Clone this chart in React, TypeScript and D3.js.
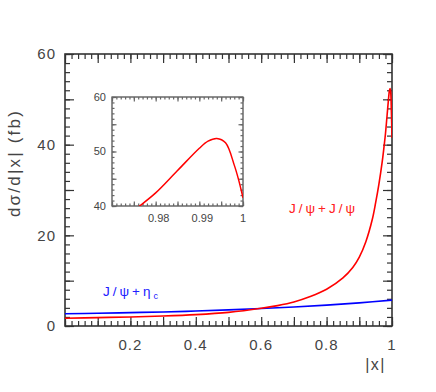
import * as d3 from "d3";
import { useEffect, useRef } from "react";

// |x| grid and cross sections (fb)
const redX = [0, 0.1, 0.2, 0.3, 0.4, 0.5, 0.6, 0.65, 0.7, 0.75, 0.8, 0.85, 0.88, 0.9, 0.92, 0.94, 0.95, 0.96, 0.97, 0.976, 0.98, 0.985, 0.99, 0.992, 0.994, 0.996, 0.998, 0.999, 1.0];
const redY = [1.7, 1.85, 2.0, 2.2, 2.5, 3.0, 3.9, 4.5, 5.3, 6.5, 8.1, 10.6, 12.9, 15.2, 18.6, 23.6, 27.2, 31.3, 36.2, 39.8, 42.4, 46.5, 50.6, 51.9, 52.4, 51.6, 47.5, 44.8, 41.5];

const blueX = [0, 0.1, 0.2, 0.3, 0.4, 0.5, 0.6, 0.7, 0.8, 0.9, 1.0];
const blueY = [2.7, 2.8, 2.95, 3.1, 3.3, 3.55, 3.85, 4.2, 4.6, 5.1, 5.7];

const mainXLabels = [0.2, 0.4, 0.6, 0.8, 1];
const mainYLabels = [0, 20, 40, 60];
const insetXLabels = [0.98, 0.99, 1];
const insetYLabels = [40, 50, 60];

const font = "'Liberation Sans', Arial, sans-serif";
const textColor = "#444";

const W = 436;
const H = 392;

const x = d3.scaleLinear().domain([0, 1]).range([65, 392]);
const y = d3.scaleLinear().domain([0, 60]).range([326, 54]);
const ix = d3.scaleLinear().domain([0.97, 1]).range([112, 243]);
const iy = d3.scaleLinear().domain([40, 60]).range([206, 97]);

type Pt = [number, number];
const zip = (xs: number[], ys: number[]): Pt[] => xs.map((v, i) => [v, ys[i]]);

const steps = (sc: d3.ScaleLinear<number, number>, step: number) => {
  const [a, b] = sc.domain();
  return d3.range(Math.round(a / step), Math.round(b / step) + 1).map((k) => k * step);
};

// inward tick marks on all four sides of a frame, drawn with d3 axes
function drawFrameTicks(
  g: d3.Selection<SVGGElement, unknown, null, undefined>,
  sx: d3.ScaleLinear<number, number>,
  sy: d3.ScaleLinear<number, number>,
  xs: [number, number],
  ys: [number, number],
  len: [number, number],
  color: string
) {
  const [left, right] = sx.range();
  const [bot, top] = sy.range();
  const sets: [number, number][] = [
    [xs[0], len[0]],
    [xs[1], len[1]],
  ];
  sets.forEach(([step, l]) => {
    const tv = steps(sx, step);
    g.append("g").attr("transform", `translate(0,${bot})`).call(d3.axisTop(sx).tickValues(tv).tickSize(l).tickFormat(() => ""));
    g.append("g").attr("transform", `translate(0,${top})`).call(d3.axisBottom(sx).tickValues(tv).tickSize(l).tickFormat(() => ""));
  });
  const ysets: [number, number][] = [
    [ys[0], len[0]],
    [ys[1], len[1]],
  ];
  ysets.forEach(([step, l]) => {
    const tv = steps(sy, step);
    g.append("g").attr("transform", `translate(${left},0)`).call(d3.axisRight(sy).tickValues(tv).tickSize(l).tickFormat(() => ""));
    g.append("g").attr("transform", `translate(${right},0)`).call(d3.axisLeft(sy).tickValues(tv).tickSize(l).tickFormat(() => ""));
  });
  g.selectAll(".domain").remove();
  g.selectAll("line").attr("stroke", color).attr("stroke-width", 1.2);
}

export default function App() {
  const mainRef = useRef<SVGGElement>(null);
  const insetRef = useRef<SVGGElement>(null);

  useEffect(() => {
    const gm = d3.select(mainRef.current as SVGGElement);
    gm.selectAll("*").remove();
    drawFrameTicks(gm, x, y, [0.02, 0.1], [2, 10], [5, 9], "#333");
    const gi = d3.select(insetRef.current as SVGGElement);
    gi.selectAll("*").remove();
    drawFrameTicks(gi, ix, iy, [0.001, 0.005], [1, 5], [2.5, 4.5], "#666");
  }, []);

  const mainLine = d3
    .line<Pt>()
    .x((d) => x(d[0]))
    .y((d) => y(d[1]))
    .curve(d3.curveCatmullRom.alpha(0.5));
  const insetLine = d3
    .line<Pt>()
    .x((d) => ix(d[0]))
    .y((d) => iy(d[1]))
    .curve(d3.curveCatmullRom.alpha(0.5));

  const red = zip(redX, redY);
  const blue = zip(blueX, blueY);

  return (
    <svg width={W} height={H} style={{ position: "absolute", left: 0, top: 0 }} fontFamily={font}>
      <defs>
        <clipPath id="mainClip">
          <rect x={65} y={54} width={327} height={272} />
        </clipPath>
        <clipPath id="insetClip">
          <rect x={112} y={97} width={131} height={109} />
        </clipPath>
      </defs>

      <g ref={mainRef} />
      <rect x={65} y={54} width={327} height={272} fill="none" stroke="#333" strokeWidth={1.6} />

      <g clipPath="url(#mainClip)" fill="none" strokeWidth={1.6}>
        <path d={mainLine(blue) ?? ""} stroke="#0000ff" />
        <path d={mainLine(red) ?? ""} stroke="#ff0000" />
      </g>

      {mainXLabels.map((v) => (
        <text key={v} x={x(v)} y={350} textAnchor="middle" fontSize={15} fill={textColor} letterSpacing={1}>
          {v}
        </text>
      ))}
      {mainYLabels.map((v) => (
        <text key={v} x={56} y={y(v)} dy="0.36em" textAnchor="end" fontSize={15} fill={textColor} letterSpacing={1}>
          {v}
        </text>
      ))}
      <text x={386} y={370} textAnchor="end" fontSize={16} fill={textColor} letterSpacing={1.5}>
        |x|
      </text>
      <text
        transform="translate(20,163) rotate(-90)"
        textAnchor="middle"
        fontSize={17}
        fill={textColor}
        letterSpacing={2.2}
      >
        dσ/d|x| (fb)
      </text>

      {/* curve labels */}
      <text x={289} y={213} fontSize={13.5} fill="#ff2020" letterSpacing={3}>
        J/ψ+J/ψ
      </text>
      <text x={103} y={296} fontSize={13.5} fill="#2020ff" letterSpacing={3}>
        J/ψ+η<tspan fontSize={9} dy={3}>c</tspan>
      </text>

      {/* inset */}
      <rect x={112} y={97} width={131} height={109} fill="#fff" stroke="#444" strokeWidth={1.2} />
      <g ref={insetRef} />
      <g clipPath="url(#insetClip)" fill="none" strokeWidth={1.5}>
        <path d={insetLine(red) ?? ""} stroke="#ff0000" />
      </g>
      {insetXLabels.map((v) => (
        <text key={v} x={ix(v) + (v === 1 ? 0 : 3)} y={222} textAnchor="middle" fontSize={11} fill={textColor}>
          {v}
        </text>
      ))}
      {insetYLabels.map((v) => (
        <text key={v} x={106} y={iy(v)} dy="0.36em" textAnchor="end" fontSize={11} fill={textColor}>
          {v}
        </text>
      ))}
    </svg>
  );
}
